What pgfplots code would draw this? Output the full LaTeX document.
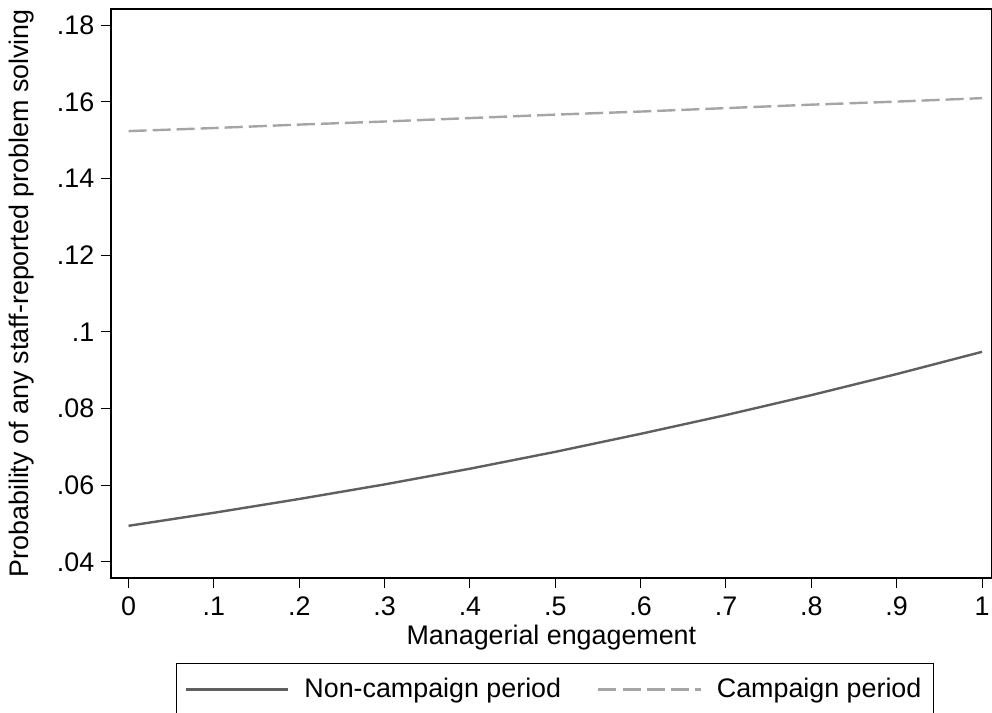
\documentclass[border=0pt]{standalone}
\usepackage{pgfplots}
\pgfplotsset{compat=1.18}
\usepackage{fontspec}
\setmainfont{Liberation Sans}
\definecolor{solidgray}{RGB}{95,95,95}
\definecolor{dashgray}{RGB}{165,165,165}
\begin{document}
\fontsize{13.4}{16}\selectfont
\begin{tikzpicture}
\path[use as bounding box] (-55.3pt,-67.2pt) rectangle (439.7pt,288.3pt);
\begin{axis}[
  scale only axis,
  width=439.7pt, height=283.8pt,
  at={(0,0)}, anchor=south west,
  xmin=-0.0208, xmax=1.0117,
  ymin=0.03584, ymax=0.18426,
  axis line style={line width=0.9pt, black},
  tick pos=left,
  tick align=outside,
  major tick length=5pt,
  tick style={line width=0.5pt, black},
  xtick={0,0.1,0.2,0.3,0.4,0.5,0.6,0.7,0.8,0.9,1},
  xticklabels={0,.1,.2,.3,.4,.5,.6,.7,.8,.9,1},
  ytick={0.04,0.06,0.08,0.1,0.12,0.14,0.16,0.18},
  yticklabels={.04,.06,.08,.1,.12,.14,.16,.18},
  xticklabel style={font=\fontsize{13.4}{16}\selectfont, yshift=0pt},
  yticklabel style={font=\fontsize{13.4}{16}\selectfont, xshift=1.4pt},
  xlabel={Managerial engagement},
  ylabel={Probability of any staff-reported problem solving},
  xlabel style={font=\fontsize{13.4}{16}\selectfont, at={(axis description cs:0.5,0)}, anchor=base, yshift=-33.5pt},
  ylabel style={font=\fontsize{13.4}{16}\selectfont, at={(axis description cs:-0.1008,0.5)}, anchor=center},
  legend columns=2,
  legend style={
    at={(axis description cs:0.5042,-0.1963)}, anchor=center,
    draw=black, line width=0.6pt,
    font=\fontsize{13.4}{16}\selectfont,
    inner xsep=4pt, inner ysep=5pt,
    /tikz/every even column/.append style={column sep=16pt},
    legend cell align=left,
  },
  legend image code/.code={\draw[#1, line width=1.2pt] (0pt,0pt) -- (51pt,0pt); \path (56.5pt,0pt);},
]
\addplot[solidgray, line width=1.2pt] coordinates {
(0,0.0494) (0.1,0.0528) (0.2,0.0564) (0.3,0.0602) (0.4,0.0643) (0.5,0.0687)
(0.6,0.0734) (0.7,0.0783) (0.8,0.0835) (0.9,0.0890) (1,0.0948)
};
\addlegendentry{Non-campaign period}
\addplot[dashgray, line width=1.2pt, dash pattern=on 9pt off 3pt] coordinates {
(0,0.1524) (0.1,0.1532) (0.2,0.1541) (0.3,0.1549) (0.4,0.1558) (0.5,0.1567)
(0.6,0.1575) (0.7,0.1584) (0.8,0.1593) (0.9,0.1601) (1,0.1610)
};
\addlegendentry{Campaign period}
\end{axis}
\end{tikzpicture}
\end{document}
